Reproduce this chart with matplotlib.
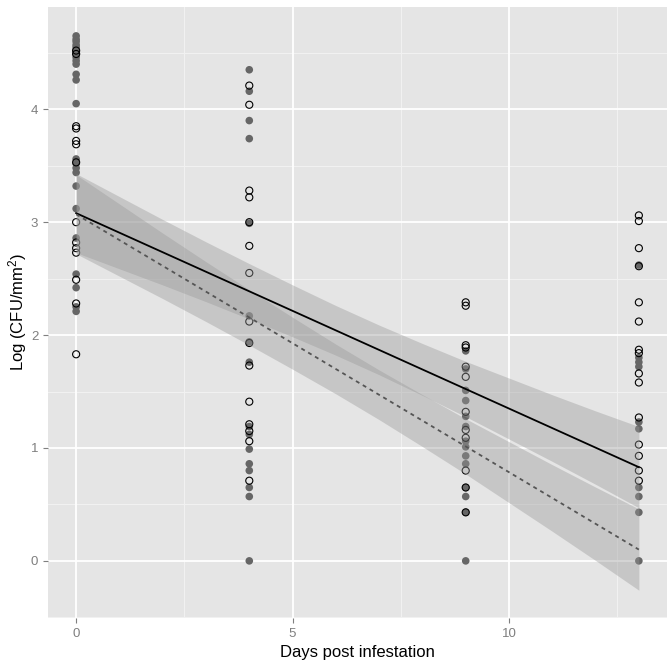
import matplotlib
matplotlib.use("Agg")
import matplotlib.pyplot as plt
import numpy as np

plt.rcParams['font.family'] = ['Liberation Sans', 'DejaVu Sans']
plt.rcParams['mathtext.default'] = 'regular'

# ---- data ----
days = [0, 4, 9, 13]

filled_0 = [4.65, 4.62, 4.60, 4.57, 4.55, 4.52, 4.49, 4.46, 4.43, 4.40, 4.31, 4.26,
            4.05, 3.56, 3.52, 3.48, 3.44, 3.32, 3.12, 2.86, 2.54, 2.42, 2.25, 2.21]
open_0 = [4.52, 4.49, 3.85, 3.83, 3.72, 3.69, 3.53, 3.00, 2.82, 2.77, 2.73, 2.49, 2.28, 1.83]

filled_4 = [4.35, 4.16, 3.90, 3.74, 2.99, 2.17, 1.94, 1.76, 1.19, 1.12, 0.99, 0.86,
            0.80, 0.65, 0.57, 0.0]
open_4 = [4.21, 4.04, 3.28, 3.22, 3.00, 2.79, 2.55, 2.12, 1.93, 1.73, 1.41, 1.21,
          1.15, 1.06, 0.71]

filled_9 = [1.86, 1.70, 1.51, 1.42, 1.28, 1.19, 1.06, 1.01, 0.93, 0.86, 0.65, 0.57,
            0.43, 0.0]
open_9 = [2.29, 2.26, 1.91, 1.89, 1.72, 1.63, 1.32, 1.16, 1.09, 0.80, 0.65, 0.43]

filled_13 = [2.62, 1.80, 1.76, 1.72, 1.23, 1.17, 0.65, 0.57, 0.43, 0.0]
open_13 = [3.06, 3.01, 2.77, 2.61, 2.29, 2.12, 1.87, 1.84, 1.66, 1.58, 1.27, 1.03,
           0.93, 0.80, 0.71]

filled_vals = [filled_0, filled_4, filled_9, filled_13]
open_vals = [open_0, open_4, open_9, open_13]

# fitted lines (start / end values at day 0 and day 13)
line_x = [0, 13]
solid_fit = [3.08, 0.83]
dashed_fit = [3.07, 0.10]

# confidence band half-widths read at these days
band_x = [0, 1, 2, 3, 4, 5, 6, 7, 8, 9, 10, 11, 12, 13]
band_half = [0.35, 0.32, 0.29, 0.265, 0.245, 0.23, 0.22, 0.22, 0.23, 0.245,
             0.27, 0.295, 0.325, 0.36]

xticks = [0, 5, 10]
yticks = [0, 1, 2, 3, 4]

# ---- figure ----
fig = plt.figure(figsize=(6.69, 6.68), dpi=100)
ax = fig.add_axes([48/669, 50/668, 619/669, 611/668])
ax.set_facecolor('#E5E5E5')

# grid
for v in [2.5, 7.5, 12.5]:
    ax.axvline(v, color='#F2F2F2', lw=0.7, zorder=0)
for v in [-0.5, 0.5, 1.5, 2.5, 3.5, 4.5]:
    ax.axhline(v, color='#F2F2F2', lw=0.7, zorder=0)
for v in xticks:
    ax.axvline(v, color='white', lw=1.3, zorder=0)
for v in yticks:
    ax.axhline(v, color='white', lw=1.3, zorder=0)

# points
for d, fv, ov in zip(days, filled_vals, open_vals):
    ax.scatter([d]*len(fv), fv, s=30, color='#666666', edgecolors='none', zorder=2)
    ax.scatter([d]*len(ov), ov, s=26, facecolors='none', edgecolors='black',
               linewidths=0.8, zorder=2)

# bands and lines
bx = np.array(band_x, dtype=float)
bh = np.array(band_half)
for fit in (solid_fit, dashed_fit):
    slope = (fit[1] - fit[0]) / (line_x[1] - line_x[0])
    centre = fit[0] + slope * (bx - line_x[0])
    ax.fill_between(bx, centre - bh, centre + bh, color='#999999', alpha=0.4,
                    linewidth=0, zorder=3)

ax.plot(line_x, solid_fit, color='black', lw=1.3, zorder=4)
ax.plot(line_x, dashed_fit, color='#555555', lw=1.3, ls=(0, (2.2, 2.2)), zorder=4)

ax.set_xlim(-0.65, 13.65)
ax.set_ylim(-0.506, 4.906)
ax.set_xticks(xticks)
ax.set_yticks(yticks)
ax.tick_params(colors='#7F7F7F', labelsize=9.5, length=3.5, width=0.8, labelcolor='#7F7F7F')
for s in ax.spines.values():
    s.set_visible(False)

ax.set_xlabel('Days post infestation', fontsize=12, labelpad=4)
ax.set_ylabel('Log (CFU/mm$^{2}$)', fontsize=12)
ax.yaxis.set_label_coords(-19/619, 0.5)

fig.savefig('out.png', dpi=100)
